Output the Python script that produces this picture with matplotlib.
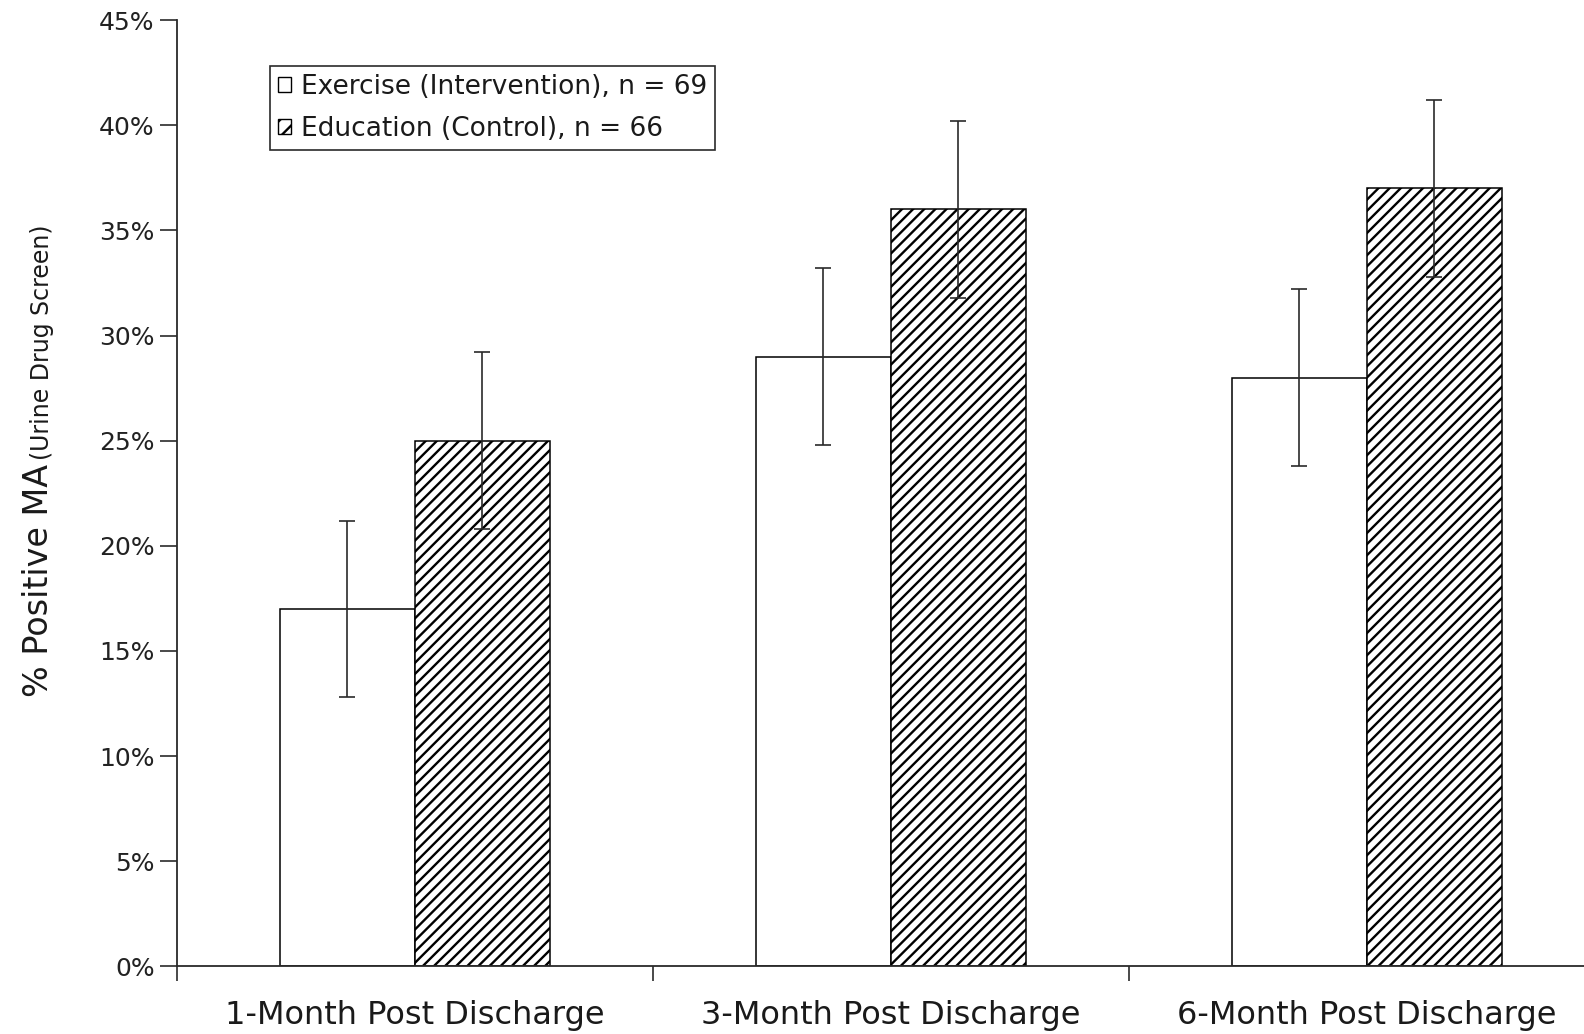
import matplotlib
matplotlib.use('Agg')
import matplotlib.pyplot as plt
import matplotlib.patches as mpatches
from matplotlib.ticker import FixedLocator, PercentFormatter
import numpy as np

# data (percent)
categories = ['1-Month Post Discharge', '3-Month Post Discharge', '6-Month Post Discharge']
exercise = [17, 29, 28]
education = [25, 36, 37]
exercise_err = [4.2, 4.2, 4.2]
education_err = [4.2, 4.2, 4.2]
labels = ['Exercise (Intervention), n = 69', 'Education (Control), n = 66']

plt.rcParams['font.family'] = ['DejaVu Sans']
plt.rcParams['hatch.linewidth'] = 1.7
plt.rcParams['hatch.color'] = 'black'

ink = '#2a2a2a'

fig = plt.figure(figsize=(15.84, 10.34), dpi=100)
ax = fig.add_axes([176.8/1584, 1 - 966.4/1034, 1428/1584, 946.2/1034])

x = np.arange(len(categories))
w = 0.284

ax.bar(x - w/2, exercise, width=w, color='white', edgecolor='black', linewidth=1.1, zorder=2)
ax.bar(x + w/2, education, width=w, color='white', edgecolor='black', linewidth=1.1,
       hatch='///', zorder=2)

ax.errorbar(x - w/2, exercise, yerr=exercise_err, fmt='none', ecolor=ink,
            elinewidth=1.2, capsize=5.5, capthick=1.2, zorder=3)
ax.errorbar(x + w/2, education, yerr=education_err, fmt='none', ecolor=ink,
            elinewidth=1.2, capsize=5.5, capthick=1.2, zorder=3)

ax.set_xlim(-0.5, 2.5)
ax.set_ylim(0, 45)
ax.set_yticks(np.arange(0, 46, 5))
ax.yaxis.set_major_formatter(PercentFormatter(decimals=0))

ax.set_xticks(x)
ax.set_xticklabels(categories, fontsize=23, color='#1a1a1a')
ax.xaxis.set_minor_locator(FixedLocator([-0.5, 0.5, 1.5, 2.5]))
ax.tick_params(axis='x', which='major', length=0, pad=24)
ax.tick_params(axis='x', which='minor', length=11, width=1.2, color=ink, direction='out')
ax.tick_params(axis='y', length=12, width=1.2, color=ink, labelsize=18,
               labelcolor='#222222', pad=4)

for s in ['top', 'right']:
    ax.spines[s].set_visible(False)
for s in ['left', 'bottom']:
    ax.spines[s].set_color(ink)
    ax.spines[s].set_linewidth(1.3)

handles = [mpatches.Patch(facecolor='white', edgecolor='black', linewidth=1),
           mpatches.Patch(facecolor='white', edgecolor='black', linewidth=1, hatch='//')]
leg = ax.legend(handles, labels, loc='upper left', bbox_to_anchor=(0.065, 0.952),
                borderaxespad=0, fontsize=19, handlelength=0.5, handleheight=0.5,
                handletextpad=0.4, labelspacing=0.62, borderpad=0.3,
                fancybox=False, framealpha=1, labelcolor='#1a1a1a')
leg.get_frame().set_edgecolor(ink)
leg.get_frame().set_linewidth(1.2)

# y label in two sizes, sharing one baseline
bx = 48.5/1584
t1 = fig.text(bx, 1 - 697/1034, '% Positive MA', rotation=90, rotation_mode='anchor',
              ha='left', va='baseline', fontsize=24, color='#1a1a1a')
fig.canvas.draw()
r = fig.canvas.get_renderer()
top = t1.get_window_extent(r).y1 / fig.bbox.height
fig.text(bx, top + 0.004, '(Urine Drug Screen)', rotation=90, rotation_mode='anchor',
         ha='left', va='baseline', fontsize=17, color='#1a1a1a')

fig.savefig('out.png', dpi=100)
